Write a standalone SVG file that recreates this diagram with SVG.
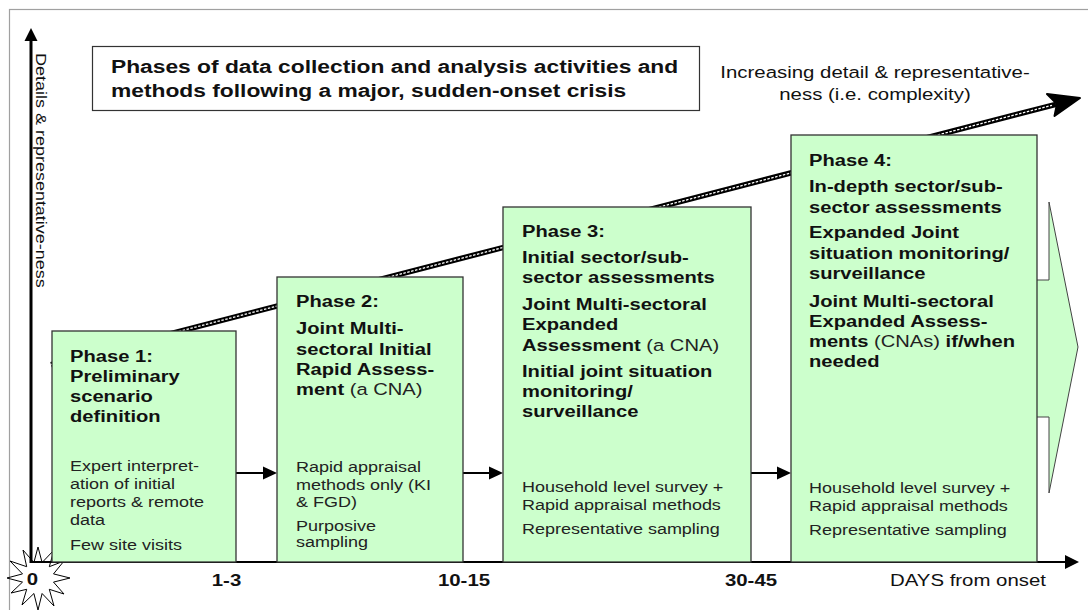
<svg xmlns="http://www.w3.org/2000/svg" width="1088" height="610" viewBox="0 0 1088 610">
<style>
.frame{fill:none;stroke:#a0a0a0;stroke-width:1.2}
.box{fill:#ccffcc;stroke:#333;stroke-width:1.3}
.t{font-family:"Liberation Sans",Arial,sans-serif;fill:#111}
.h{font-size:16.8px;font-weight:bold}
.r{font-size:15px;fill:#222}
.rn{font-weight:normal;fill:#222}
.tick{font-size:17px;font-weight:bold}
.ax{stroke:#000;fill:none}
</style>
<rect class="frame" x="9.5" y="9.5" width="1100" height="700"/>

<g id="title">
<rect x="92.5" y="46.5" width="607" height="64" fill="#fff" stroke="#333" stroke-width="1.2"/>
<text class="t" font-size="19" font-weight="bold" transform="translate(111 0) scale(1.2 1)"><tspan x="0" y="73">Phases of data collection and analysis activities and</tspan><tspan x="0" y="97">methods following a major, sudden-onset crisis</tspan></text>
</g>

<g id="complexity-label">
<text class="t" font-size="17" fill="#222" text-anchor="middle" transform="translate(875 0) scale(1.2 1)"><tspan x="0" y="78">Increasing detail &amp; representative-</tspan><tspan x="0" y="100">ness (i.e. complexity)</tspan></text>
</g>

<g id="connectors">
<!-- origin star -->
<polygon points="70,578 53.5,582.1 64,594 49.3,589.3 54,606 42.1,593.5 38,610 33.9,593.5 22,605 26.7,589.3 11,593 22.5,582.1 7,578 22.5,573.9 10,561 26.7,566.7 23,550 33.9,562.5 38,547 42.1,562.5 54,550 49.3,566.7 64,561 53.5,573.9" fill="#fff" stroke="#000" stroke-width="1"/>
<!-- y axis -->
<line class="ax" x1="31" y1="40" x2="31" y2="563" stroke-width="3"/>
<polygon points="31,28 37.5,41 24.5,41" fill="#000"/>
<!-- x axis -->
<line class="ax" x1="30" y1="562" x2="1066" y2="562" stroke-width="2"/>
<polygon points="1079,562 1065,555 1065,569" fill="#000"/>
<!-- complexity diagonal arrow -->
<line x1="51" y1="364.6" x2="1056" y2="104.3" stroke="#000" stroke-width="5.5"/>
<line x1="51" y1="364.6" x2="1052" y2="105.3" stroke="#fff" stroke-width="1.3" stroke-dasharray="2.5 1.5"/>
<polygon points="1080,98 1047,94 1057,104 1054.5,116" fill="#000" stroke="#000" stroke-width="2" stroke-linejoin="round"/>
<!-- big right arrow -->
<polygon points="1000,280 1049,280 1049,202 1078,347 1049,493 1049,417 1000,417" fill="#ccffcc" stroke="#444" stroke-width="1"/>
<!-- phase to phase arrows -->
<line x1="236" y1="473" x2="265" y2="473" stroke="#000" stroke-width="2"/>
<polygon points="277,473 263,466.5 263,479.5" fill="#000"/>
<line x1="463" y1="473" x2="491" y2="473" stroke="#000" stroke-width="2"/>
<polygon points="503,473 489,466.5 489,479.5" fill="#000"/>
<line x1="751" y1="473" x2="779" y2="473" stroke="#000" stroke-width="2"/>
<polygon points="791,473 777,466.5 777,479.5" fill="#000"/>
</g>

<g id="axis-labels">
<text class="t" font-size="15" fill="#222" transform="translate(35.5 53) rotate(90) scale(1.2 1)">Details &amp; representative-ness</text>
<text class="t tick" text-anchor="middle" transform="translate(32.5 585) scale(1.2 1)">0</text>
<text class="t tick" text-anchor="middle" transform="translate(226.5 586) scale(1.2 1)">1-3</text>
<text class="t tick" text-anchor="middle" transform="translate(464 586) scale(1.2 1)">10-15</text>
<text class="t tick" text-anchor="middle" transform="translate(751 586) scale(1.2 1)">30-45</text>
<text class="t" font-size="17" fill="#222" transform="translate(890 586) scale(1.2 1)">DAYS from onset</text>
</g>

<g id="phase1">
<rect class="box" x="52" y="331" width="184" height="231"/>
<text class="t h" transform="translate(70 0) scale(1.2 1)"><tspan x="0" y="362">Phase 1:</tspan><tspan x="0" y="382">Preliminary</tspan><tspan x="0" y="402">scenario</tspan><tspan x="0" y="422">definition</tspan></text>
<text class="t r" transform="translate(70 0) scale(1.2 1)"><tspan x="0" y="471">Expert interpret-</tspan><tspan x="0" y="489">ation of initial</tspan><tspan x="0" y="507">reports &amp; remote</tspan><tspan x="0" y="525">data</tspan><tspan x="0" y="550">Few site visits</tspan></text>
</g>

<g id="phase2">
<rect class="box" x="277" y="277" width="186" height="285"/>
<text class="t h" transform="translate(296 0) scale(1.2 1)"><tspan x="0" y="307">Phase 2:</tspan><tspan x="0" y="334">Joint Multi-</tspan><tspan x="0" y="355">sectoral Initial</tspan><tspan x="0" y="375">Rapid Assess-</tspan><tspan x="0" y="395">ment <tspan class="rn">(a CNA)</tspan></tspan></text>
<text class="t r" transform="translate(296 0) scale(1.2 1)"><tspan x="0" y="472">Rapid appraisal</tspan><tspan x="0" y="490">methods only (KI</tspan><tspan x="0" y="507">&amp; FGD)</tspan><tspan x="0" y="531">Purposive</tspan><tspan x="0" y="547">sampling</tspan></text>
</g>

<g id="phase3">
<rect class="box" x="503" y="207" width="248" height="355"/>
<text class="t h" transform="translate(522 0) scale(1.2 1)"><tspan x="0" y="237">Phase 3:</tspan><tspan x="0" y="263">Initial sector/sub-</tspan><tspan x="0" y="283">sector assessments</tspan><tspan x="0" y="310">Joint Multi-sectoral</tspan><tspan x="0" y="330">Expanded</tspan><tspan x="0" y="351">Assessment <tspan class="rn">(a CNA)</tspan></tspan><tspan x="0" y="377">Initial joint situation</tspan><tspan x="0" y="397">monitoring/</tspan><tspan x="0" y="417">surveillance</tspan></text>
<text class="t r" transform="translate(522 0) scale(1.2 1)"><tspan x="0" y="492">Household level survey +</tspan><tspan x="0" y="510">Rapid appraisal methods</tspan><tspan x="0" y="534">Representative sampling</tspan></text>
</g>

<g id="phase4">
<rect class="box" x="791" y="135" width="246" height="427"/>
<text class="t h" transform="translate(809 0) scale(1.2 1)"><tspan x="0" y="166">Phase 4:</tspan><tspan x="0" y="192">In-depth sector/sub-</tspan><tspan x="0" y="213">sector assessments</tspan><tspan x="0" y="238">Expanded Joint</tspan><tspan x="0" y="259">situation monitoring/</tspan><tspan x="0" y="279">surveillance</tspan><tspan x="0" y="307">Joint Multi-sectoral</tspan><tspan x="0" y="327">Expanded Assess-</tspan><tspan x="0" y="347">ments <tspan class="rn">(CNAs)</tspan> if/when</tspan><tspan x="0" y="367">needed</tspan></text>
<text class="t r" transform="translate(809 0) scale(1.2 1)"><tspan x="0" y="493">Household level survey +</tspan><tspan x="0" y="511">Rapid appraisal methods</tspan><tspan x="0" y="535">Representative sampling</tspan></text>
</g>
</svg>
